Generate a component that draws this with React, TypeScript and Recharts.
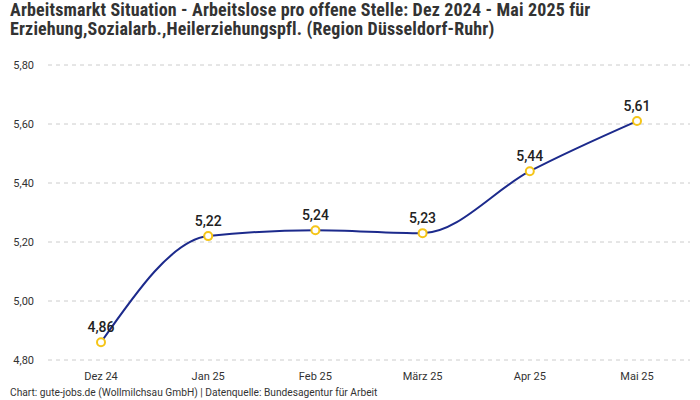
import { LineChart, Line, XAxis, YAxis, CartesianGrid, LabelList } from "recharts";

const months = ["Dez 24", "Jan 25", "Feb 25", "März 25", "Apr 25", "Mai 25"];
const ratio = [4.86, 5.22, 5.24, 5.23, 5.44, 5.61];
const yTicks = [4.8, 5.0, 5.2, 5.4, 5.6, 5.8];

const data = months.map((month, i) => ({ month, value: ratio[i] }));

const fmt = (v: number) => v.toFixed(2).replace(".", ",");

export default function App() {
  return (
    <div style={{ position: "absolute", left: 0, top: 0, width: 700, height: 400, background: "#fff", fontFamily: "Roboto, sans-serif" }}>
      <div
        style={{
          position: "absolute",
          left: 10,
          top: 0,
          fontFamily: '"Liberation Sans Narrow", "Roboto Condensed", Roboto, sans-serif',
          fontWeight: 700,
          fontSize: 18,
          letterSpacing: 0.15,
          lineHeight: "19px",
          color: "#333",
        }}
      >
        Arbeitsmarkt Situation - Arbeitslose pro offene Stelle: Dez 2024 - Mai 2025 für
        <br />
        Erziehung,Sozialarb.,Heilerziehungspfl. (Region Düsseldorf-Ruhr)
      </div>
      <LineChart
        width={700}
        height={400}
        data={data}
        margin={{ top: 65, right: 10, bottom: 10, left: 8 }}
        style={{ position: "absolute", left: 0, top: 0 }}
      >
        <CartesianGrid vertical={false} stroke="#ccc" strokeDasharray="4 4" />
        <XAxis
          dataKey="month"
          padding={{ left: 53, right: 53 }}
          axisLine={false}
          tickLine={false}
          height={30}
          tickMargin={6}
          tick={{ fontSize: 11, fill: "#333" }}
        />
        <YAxis
          domain={[4.8, 5.8]}
          ticks={yTicks}
          tickFormatter={fmt}
          width={40}
          axisLine={false}
          tickLine={false}
          tickMargin={8}
          tick={{ fontSize: 11, fill: "#333" }}
        />
        <Line
          type="monotone"
          dataKey="value"
          stroke="#1c2a8c"
          strokeWidth={2}
          dot={{ r: 4, fill: "#fff", stroke: "#f5c518", strokeWidth: 2 }}
          isAnimationActive={false}
        >
          <LabelList
            dataKey="value"
            position="top"
            offset={10}
            formatter={(v: number) => fmt(v)}
            style={{ fontSize: 14, fontWeight: 500, fill: "#222" }}
          />
        </Line>
      </LineChart>
      <div style={{ position: "absolute", left: 10, top: 387, fontSize: 10.2, color: "#333" }}>
        Chart: gute-jobs.de (Wollmilchsau GmbH) | Datenquelle: Bundesagentur für Arbeit
      </div>
    </div>
  );
}
